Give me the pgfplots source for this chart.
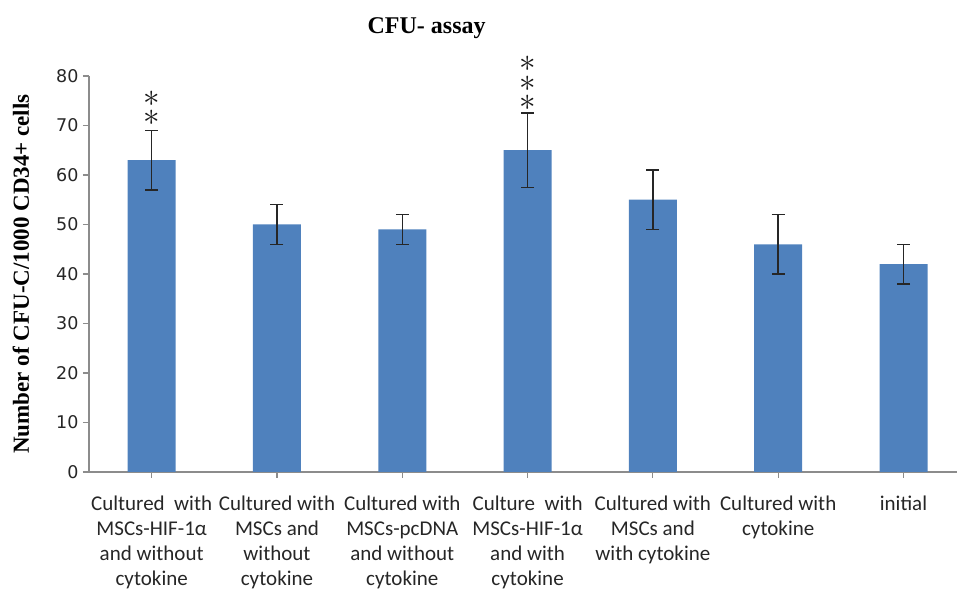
\documentclass[border=0pt]{standalone}
\usepackage{graphicx}
\usepackage{pgfplots}
\pgfplotsset{compat=1.18}
\usepackage{fontspec}
\setmainfont{Carlito}
\newfontfamily\dejavu{DejaVu Sans}
\newfontfamily\lserif{Liberation Serif}
\definecolor{barblue}{HTML}{4F81BD}
\definecolor{axisgray}{HTML}{8C8C8C}
\newcommand{\bigast}{\scalebox{3.3}{$\ast$}}
\begin{document}
\begin{tikzpicture}
\begin{axis}[
  scale only axis,
  width=868pt, height=396pt,
  xmin=-0.5, xmax=6.427,
  ymin=0, ymax=80,
  clip=false,
  axis lines=left,
  axis line style={-, axisgray, line width=1.3pt},
  ytick={0,10,...,80},
  xtick={0,1,2,3,4,5,6},
  tick align=outside,
  major tick length=6pt,
  tick style={axisgray, line width=1.2pt},
  /pgf/number format/assume math mode=true,
  yticklabel style={font=\dejavu\fontsize{17.5}{17.5}\selectfont, text=black!85, xshift=-1pt},
  xticklabels={{Cultured\ \ with\\MSCs-HIF-1α\\and without\\cytokine},
               {Cultured with\\MSCs and\\without\\cytokine},
               {Cultured with\\MSCs-pcDNA\\and without\\cytokine},
               {Culture\ \ with\\MSCs-HIF-1α\\and with\\cytokine},
               {Cultured with\\MSCs and\\with cytokine},
               {Cultured with\\cytokine},
               {initial}},
  xticklabel style={font=\fontsize{21}{25}\selectfont, align=center, anchor=north, yshift=-14pt, text=black!85},
]
\addplot[ybar, bar width=48pt, fill=barblue, draw=none,
  error bars/.cd, y dir=both, y explicit,
  error bar style={line width=1.5pt, black!85},
  error mark options={rotate=90, mark size=6.5pt, line width=1.5pt, black!85}]
  table[x=x, y=y, y error=e] {
x y e
0 63 6
1 50 4
2 49 3
3 65 7.5
4 55 6
5 46 6
6 42 4
};
\node[inner sep=0pt, text=black!90, align=center, font=\fontsize{10}{19}\selectfont] at (axis cs:0,73.4) {\bigast\\\bigast};
\node[inner sep=0pt, text=black!90, align=center, font=\fontsize{10}{19.5}\selectfont] at (axis cs:3,78.5) {\bigast\\\bigast\\\bigast};
\node[font=\lserif\bfseries\fontsize{24}{24}\selectfont] at (rel axis cs:0.389,1) [yshift=48pt] {CFU- assay};
\node[xshift=-68pt, rotate=90, font=\lserif\bfseries\fontsize{23}{23}\selectfont] at (rel axis cs:0,0.5) {Number of CFU-C/1000 CD34+ cells};
\end{axis}
\pgfresetboundingbox
\path[use as bounding box] ([shift={(-89pt,-121pt)}]current axis.south west) rectangle ++(957pt,593pt);
\end{tikzpicture}
\end{document}
